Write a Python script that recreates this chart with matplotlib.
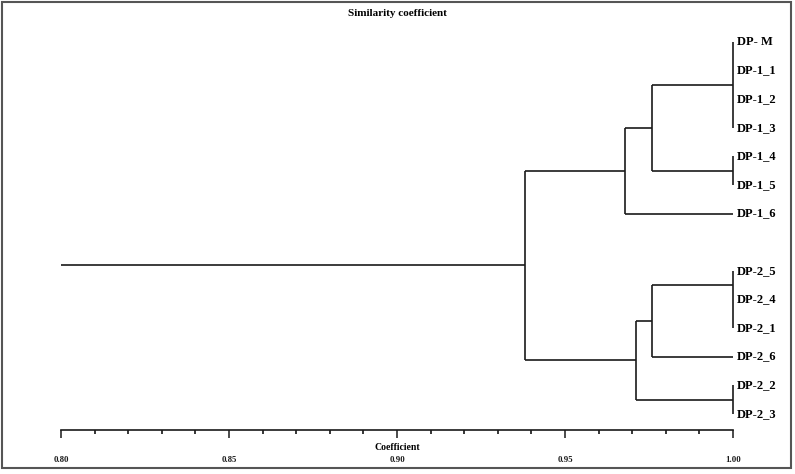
"""Dendrogram of DP samples by similarity coefficient."""
import matplotlib
matplotlib.use("Agg")
import matplotlib.pyplot as plt
from matplotlib.patches import Rectangle
from matplotlib.ticker import MultipleLocator, FormatStrFormatter

plt.rcParams["font.family"] = ["Liberation Serif", "DejaVu Serif"]
plt.rcParams["font.weight"] = "bold"

# leaf labels, top to bottom
GROUP1 = ["DP- M", "DP-1_1", "DP-1_2", "DP-1_3", "DP-1_4", "DP-1_5", "DP-1_6"]
GROUP2 = ["DP-2_5", "DP-2_4", "DP-2_1", "DP-2_6", "DP-2_2", "DP-2_3"]

# merge levels (similarity coefficient)
H_ROOT = 0.938
H_G1 = 0.968
H_G1_SUB = 0.976
H_G2 = 0.971
H_G2_SUB = 0.976
H_IDENT = 1.00

# (height, children) ; a child is a leaf label or another node
TREE = (H_ROOT, [
    (H_G1, [
        (H_G1_SUB, [
            (H_IDENT, GROUP1[0:4]),
            (H_IDENT, GROUP1[4:6]),
        ]),
        GROUP1[6],
    ]),
    (H_G2, [
        (H_G2_SUB, [
            (H_IDENT, GROUP2[0:3]),
            GROUP2[3],
        ]),
        (H_IDENT, GROUP2[4:6]),
    ]),
])
X_MIN, X_MAX = 0.80, 1.00

LINE_KW = dict(color="#1a1a1a", lw=1.2, solid_capstyle="butt", clip_on=False)

# slot position of every leaf, one blank slot between the two main groups
slot = {}
for i, lab in enumerate(GROUP1):
    slot[lab] = i
for i, lab in enumerate(GROUP2):
    slot[lab] = len(GROUP1) + 1 + i


def draw(node, ax):
    """Draw node, return (x, y) of its anchor."""
    if isinstance(node, str):
        y = slot[node]
        ax.annotate(node, (X_MAX, y), xytext=(3, 0), textcoords="offset points",
                    va="center", ha="left", fontsize=9, fontweight="bold",
                    annotation_clip=False)
        return X_MAX, y
    h, children = node
    pts = [draw(c, ax) for c in children]
    ys = [p[1] for p in pts]
    for cx, cy in pts:
        if cx != h:
            ax.plot([h, cx], [cy, cy], **LINE_KW)
    ax.plot([h, h], [min(ys), max(ys)], **LINE_KW)
    n = len(ys)
    return h, (ys[n // 2 - 1] + ys[n // 2]) / 2


W, H = 795, 474
fig = plt.figure(figsize=(W / 100, H / 100), dpi=100)
px_top, px_axis, px_step = 42, 430, 28.6
ax = fig.add_axes([61 / W, 1 - px_axis / H, 672 / W, (px_axis - px_top) / H])
ax.set_xlim(X_MIN, X_MAX)
ax.set_ylim((px_axis - px_top) / px_step, 0)

rx, ry = draw(TREE, ax)
ax.plot([X_MIN, rx], [ry, ry], **LINE_KW)

for s in ["top", "right", "left"]:
    ax.spines[s].set_visible(False)
ax.spines["bottom"].set_linewidth(1.2)
ax.spines["bottom"].set_color("#1a1a1a")
ax.set_yticks([])
ax.xaxis.set_major_locator(MultipleLocator(0.05))
ax.xaxis.set_minor_locator(MultipleLocator(0.01))
ax.xaxis.set_major_formatter(FormatStrFormatter("%.2f"))
ax.tick_params(axis="x", which="major", direction="out", length=6, width=1.1,
               pad=13, labelsize=6.3, colors="#1a1a1a")
ax.tick_params(axis="x", which="minor", direction="out", length=3, width=1.1)
for t in ax.get_xticklabels():
    t.set_fontweight("bold")

fig.text(397 / W, 1 - 448 / H, "Coefficient", ha="center", va="center",
         fontsize=7, fontweight="bold")
fig.text(397 / W, 1 - 13 / H, "Similarity coefficient", ha="center",
         va="center", fontsize=8, fontweight="bold")

fig.patches.append(Rectangle((2 / W, 1 - 468 / H), 789 / W, 466 / H,
                             transform=fig.transFigure, fill=False,
                             edgecolor="#555555", lw=1.5))

fig.savefig("out.png", dpi=100)
